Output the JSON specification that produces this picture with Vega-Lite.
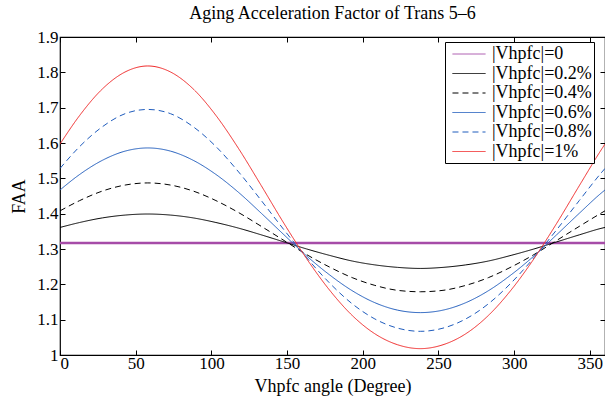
{
  "$schema": "https://vega.github.io/schema/vega-lite/v6.json",
  "width": 545,
  "height": 318,
  "autosize": {"type": "none"},
  "padding": {"top": 37, "left": 60, "right": 0, "bottom": 45},
  "background": "white",
  "title": {"text": "Aging Acceleration Factor of Trans 5–6", "font": "Liberation Serif, serif", "fontSize": 18, "fontWeight": "normal", "color": "black", "offset": 5},
  "config": {
    "font": "Liberation Serif, serif",
    "view": {"stroke": "black", "strokeWidth": 1.2},
    "axis": {"labelFont": "Liberation Serif, serif", "labelFontSize": 17, "labelColor": "black", "titleFont": "Liberation Serif, serif", "titleFontSize": 18, "titleFontWeight": "normal", "titleColor": "black", "domain": false, "grid": false, "tickColor": "black", "tickSize": -5, "labelPadding": 5},
    "legend": {"labelFont": "Liberation Serif, serif"}
  },
  "data": {"values": [
    {"a": 0, "faa": 1.317, "s": "|Vhpfc|=0"},
    {"a": 360, "faa": 1.317, "s": "|Vhpfc|=0"},
    {"a": 0, "faa": 1.361, "s": "|Vhpfc|=0.2%"},
    {"a": 13, "faa": 1.375, "s": "|Vhpfc|=0.2%"},
    {"a": 28, "faa": 1.388, "s": "|Vhpfc|=0.2%"},
    {"a": 43, "faa": 1.396, "s": "|Vhpfc|=0.2%"},
    {"a": 58, "faa": 1.399, "s": "|Vhpfc|=0.2%"},
    {"a": 73, "faa": 1.396, "s": "|Vhpfc|=0.2%"},
    {"a": 88, "faa": 1.388, "s": "|Vhpfc|=0.2%"},
    {"a": 103, "faa": 1.375, "s": "|Vhpfc|=0.2%"},
    {"a": 118, "faa": 1.359, "s": "|Vhpfc|=0.2%"},
    {"a": 133, "faa": 1.340, "s": "|Vhpfc|=0.2%"},
    {"a": 148, "faa": 1.320, "s": "|Vhpfc|=0.2%"},
    {"a": 163, "faa": 1.300, "s": "|Vhpfc|=0.2%"},
    {"a": 178, "faa": 1.282, "s": "|Vhpfc|=0.2%"},
    {"a": 193, "faa": 1.266, "s": "|Vhpfc|=0.2%"},
    {"a": 208, "faa": 1.255, "s": "|Vhpfc|=0.2%"},
    {"a": 223, "faa": 1.248, "s": "|Vhpfc|=0.2%"},
    {"a": 238, "faa": 1.245, "s": "|Vhpfc|=0.2%"},
    {"a": 253, "faa": 1.248, "s": "|Vhpfc|=0.2%"},
    {"a": 268, "faa": 1.255, "s": "|Vhpfc|=0.2%"},
    {"a": 283, "faa": 1.266, "s": "|Vhpfc|=0.2%"},
    {"a": 298, "faa": 1.282, "s": "|Vhpfc|=0.2%"},
    {"a": 313, "faa": 1.300, "s": "|Vhpfc|=0.2%"},
    {"a": 328, "faa": 1.320, "s": "|Vhpfc|=0.2%"},
    {"a": 343, "faa": 1.340, "s": "|Vhpfc|=0.2%"},
    {"a": 358, "faa": 1.359, "s": "|Vhpfc|=0.2%"},
    {"a": 360, "faa": 1.361, "s": "|Vhpfc|=0.2%"},
    {"a": 0, "faa": 1.408, "s": "|Vhpfc|=0.4%"},
    {"a": 13, "faa": 1.437, "s": "|Vhpfc|=0.4%"},
    {"a": 28, "faa": 1.464, "s": "|Vhpfc|=0.4%"},
    {"a": 43, "faa": 1.481, "s": "|Vhpfc|=0.4%"},
    {"a": 58, "faa": 1.487, "s": "|Vhpfc|=0.4%"},
    {"a": 73, "faa": 1.481, "s": "|Vhpfc|=0.4%"},
    {"a": 88, "faa": 1.464, "s": "|Vhpfc|=0.4%"},
    {"a": 103, "faa": 1.437, "s": "|Vhpfc|=0.4%"},
    {"a": 118, "faa": 1.403, "s": "|Vhpfc|=0.4%"},
    {"a": 133, "faa": 1.364, "s": "|Vhpfc|=0.4%"},
    {"a": 148, "faa": 1.324, "s": "|Vhpfc|=0.4%"},
    {"a": 163, "faa": 1.284, "s": "|Vhpfc|=0.4%"},
    {"a": 178, "faa": 1.249, "s": "|Vhpfc|=0.4%"},
    {"a": 193, "faa": 1.219, "s": "|Vhpfc|=0.4%"},
    {"a": 208, "faa": 1.197, "s": "|Vhpfc|=0.4%"},
    {"a": 223, "faa": 1.183, "s": "|Vhpfc|=0.4%"},
    {"a": 238, "faa": 1.179, "s": "|Vhpfc|=0.4%"},
    {"a": 253, "faa": 1.183, "s": "|Vhpfc|=0.4%"},
    {"a": 268, "faa": 1.197, "s": "|Vhpfc|=0.4%"},
    {"a": 283, "faa": 1.219, "s": "|Vhpfc|=0.4%"},
    {"a": 298, "faa": 1.249, "s": "|Vhpfc|=0.4%"},
    {"a": 313, "faa": 1.284, "s": "|Vhpfc|=0.4%"},
    {"a": 328, "faa": 1.324, "s": "|Vhpfc|=0.4%"},
    {"a": 343, "faa": 1.364, "s": "|Vhpfc|=0.4%"},
    {"a": 358, "faa": 1.403, "s": "|Vhpfc|=0.4%"},
    {"a": 360, "faa": 1.408, "s": "|Vhpfc|=0.4%"},
    {"a": 0, "faa": 1.467, "s": "|Vhpfc|=0.6%"},
    {"a": 13, "faa": 1.511, "s": "|Vhpfc|=0.6%"},
    {"a": 28, "faa": 1.551, "s": "|Vhpfc|=0.6%"},
    {"a": 43, "faa": 1.577, "s": "|Vhpfc|=0.6%"},
    {"a": 58, "faa": 1.586, "s": "|Vhpfc|=0.6%"},
    {"a": 73, "faa": 1.577, "s": "|Vhpfc|=0.6%"},
    {"a": 88, "faa": 1.551, "s": "|Vhpfc|=0.6%"},
    {"a": 103, "faa": 1.511, "s": "|Vhpfc|=0.6%"},
    {"a": 118, "faa": 1.460, "s": "|Vhpfc|=0.6%"},
    {"a": 133, "faa": 1.401, "s": "|Vhpfc|=0.6%"},
    {"a": 148, "faa": 1.340, "s": "|Vhpfc|=0.6%"},
    {"a": 163, "faa": 1.280, "s": "|Vhpfc|=0.6%"},
    {"a": 178, "faa": 1.227, "s": "|Vhpfc|=0.6%"},
    {"a": 193, "faa": 1.182, "s": "|Vhpfc|=0.6%"},
    {"a": 208, "faa": 1.148, "s": "|Vhpfc|=0.6%"},
    {"a": 223, "faa": 1.127, "s": "|Vhpfc|=0.6%"},
    {"a": 238, "faa": 1.120, "s": "|Vhpfc|=0.6%"},
    {"a": 253, "faa": 1.127, "s": "|Vhpfc|=0.6%"},
    {"a": 268, "faa": 1.148, "s": "|Vhpfc|=0.6%"},
    {"a": 283, "faa": 1.182, "s": "|Vhpfc|=0.6%"},
    {"a": 298, "faa": 1.227, "s": "|Vhpfc|=0.6%"},
    {"a": 313, "faa": 1.280, "s": "|Vhpfc|=0.6%"},
    {"a": 328, "faa": 1.340, "s": "|Vhpfc|=0.6%"},
    {"a": 343, "faa": 1.401, "s": "|Vhpfc|=0.6%"},
    {"a": 358, "faa": 1.460, "s": "|Vhpfc|=0.6%"},
    {"a": 360, "faa": 1.467, "s": "|Vhpfc|=0.6%"},
    {"a": 0, "faa": 1.528, "s": "|Vhpfc|=0.8%"},
    {"a": 13, "faa": 1.590, "s": "|Vhpfc|=0.8%"},
    {"a": 28, "faa": 1.646, "s": "|Vhpfc|=0.8%"},
    {"a": 43, "faa": 1.683, "s": "|Vhpfc|=0.8%"},
    {"a": 58, "faa": 1.695, "s": "|Vhpfc|=0.8%"},
    {"a": 73, "faa": 1.683, "s": "|Vhpfc|=0.8%"},
    {"a": 88, "faa": 1.646, "s": "|Vhpfc|=0.8%"},
    {"a": 103, "faa": 1.590, "s": "|Vhpfc|=0.8%"},
    {"a": 118, "faa": 1.518, "s": "|Vhpfc|=0.8%"},
    {"a": 133, "faa": 1.437, "s": "|Vhpfc|=0.8%"},
    {"a": 148, "faa": 1.354, "s": "|Vhpfc|=0.8%"},
    {"a": 163, "faa": 1.275, "s": "|Vhpfc|=0.8%"},
    {"a": 178, "faa": 1.204, "s": "|Vhpfc|=0.8%"},
    {"a": 193, "faa": 1.145, "s": "|Vhpfc|=0.8%"},
    {"a": 208, "faa": 1.102, "s": "|Vhpfc|=0.8%"},
    {"a": 223, "faa": 1.076, "s": "|Vhpfc|=0.8%"},
    {"a": 238, "faa": 1.067, "s": "|Vhpfc|=0.8%"},
    {"a": 253, "faa": 1.076, "s": "|Vhpfc|=0.8%"},
    {"a": 268, "faa": 1.102, "s": "|Vhpfc|=0.8%"},
    {"a": 283, "faa": 1.145, "s": "|Vhpfc|=0.8%"},
    {"a": 298, "faa": 1.204, "s": "|Vhpfc|=0.8%"},
    {"a": 313, "faa": 1.275, "s": "|Vhpfc|=0.8%"},
    {"a": 328, "faa": 1.354, "s": "|Vhpfc|=0.8%"},
    {"a": 343, "faa": 1.437, "s": "|Vhpfc|=0.8%"},
    {"a": 358, "faa": 1.518, "s": "|Vhpfc|=0.8%"},
    {"a": 360, "faa": 1.528, "s": "|Vhpfc|=0.8%"},
    {"a": 0, "faa": 1.597, "s": "|Vhpfc|=1%"},
    {"a": 13, "faa": 1.678, "s": "|Vhpfc|=1%"},
    {"a": 28, "faa": 1.753, "s": "|Vhpfc|=1%"},
    {"a": 43, "faa": 1.801, "s": "|Vhpfc|=1%"},
    {"a": 58, "faa": 1.818, "s": "|Vhpfc|=1%"},
    {"a": 73, "faa": 1.801, "s": "|Vhpfc|=1%"},
    {"a": 88, "faa": 1.753, "s": "|Vhpfc|=1%"},
    {"a": 103, "faa": 1.678, "s": "|Vhpfc|=1%"},
    {"a": 118, "faa": 1.584, "s": "|Vhpfc|=1%"},
    {"a": 133, "faa": 1.479, "s": "|Vhpfc|=1%"},
    {"a": 148, "faa": 1.372, "s": "|Vhpfc|=1%"},
    {"a": 163, "faa": 1.272, "s": "|Vhpfc|=1%"},
    {"a": 178, "faa": 1.184, "s": "|Vhpfc|=1%"},
    {"a": 193, "faa": 1.112, "s": "|Vhpfc|=1%"},
    {"a": 208, "faa": 1.060, "s": "|Vhpfc|=1%"},
    {"a": 223, "faa": 1.029, "s": "|Vhpfc|=1%"},
    {"a": 238, "faa": 1.018, "s": "|Vhpfc|=1%"},
    {"a": 253, "faa": 1.029, "s": "|Vhpfc|=1%"},
    {"a": 268, "faa": 1.060, "s": "|Vhpfc|=1%"},
    {"a": 283, "faa": 1.112, "s": "|Vhpfc|=1%"},
    {"a": 298, "faa": 1.184, "s": "|Vhpfc|=1%"},
    {"a": 313, "faa": 1.272, "s": "|Vhpfc|=1%"},
    {"a": 328, "faa": 1.372, "s": "|Vhpfc|=1%"},
    {"a": 343, "faa": 1.479, "s": "|Vhpfc|=1%"},
    {"a": 358, "faa": 1.584, "s": "|Vhpfc|=1%"},
    {"a": 360, "faa": 1.597, "s": "|Vhpfc|=1%"}
  ]},
  "layer": [
    {
      "mark": {"type": "line", "interpolate": "monotone", "clip": true},
      "encoding": {
        "x": {"field": "a", "type": "quantitative", "scale": {"domain": [0, 360], "nice": false}, "axis": {"values": [0, 50, 100, 150, 200, 250, 300, 350], "title": "Vhpfc angle (Degree)", "titlePadding": 6}},
        "y": {"field": "faa", "type": "quantitative", "scale": {"domain": [1, 1.9], "nice": false, "zero": false}, "axis": {"values": [1, 1.1, 1.2, 1.3, 1.4, 1.5, 1.6, 1.7, 1.8, 1.9], "format": "~g", "title": "FAA", "titlePadding": 8, "labelPadding": 7}},
        "color": {"field": "s", "type": "nominal", "scale": {"domain": ["|Vhpfc|=0", "|Vhpfc|=0.2%", "|Vhpfc|=0.4%", "|Vhpfc|=0.6%", "|Vhpfc|=0.8%", "|Vhpfc|=1%"], "range": ["#a64ca8", "#000000", "#000000", "#1f5cbd", "#1f5cbd", "#f02828"]}, "legend": {"title": null, "orient": "none", "legendX": 385, "legendY": 5, "fillColor": "white", "strokeColor": "black", "padding": 2, "labelFont": "Liberation Serif, serif", "labelFontSize": 18, "labelColor": "black", "symbolType": "M-1.74,0H1.74", "symbolSize": 361, "symbolStrokeWidth": 1, "rowPadding": 0.5, "labelOffset": 13, "symbolOffset": 12, "encode": {"symbols": {"update": {"strokeWidth": {"value": 1}}}}}},
        "strokeDash": {"field": "s", "type": "nominal", "scale": {"domain": ["|Vhpfc|=0", "|Vhpfc|=0.2%", "|Vhpfc|=0.4%", "|Vhpfc|=0.6%", "|Vhpfc|=0.8%", "|Vhpfc|=1%"], "range": [[1, 0], [1, 0], [6, 4], [1, 0], [6, 4], [1, 0]]}, "legend": {"title": null}},
        "strokeWidth": {"condition": {"test": "datum.s === '|Vhpfc|=0'", "value": 2.5}, "value": 1}
      }
    },
    {
      "mark": {"type": "line", "opacity": 0},
      "encoding": {
        "x": {"field": "a", "type": "quantitative", "axis": {"orient": "top", "values": [0, 50, 100, 150, 200, 250, 300, 350], "labels": false, "title": null}},
        "y": {"field": "faa", "type": "quantitative", "axis": {"orient": "right", "values": [1, 1.1, 1.2, 1.3, 1.4, 1.5, 1.6, 1.7, 1.8, 1.9], "labels": false, "title": null}},
        "detail": {"field": "s"}
      }
    }
  ],
  "resolve": {"axis": {"x": "independent", "y": "independent"}}
}
